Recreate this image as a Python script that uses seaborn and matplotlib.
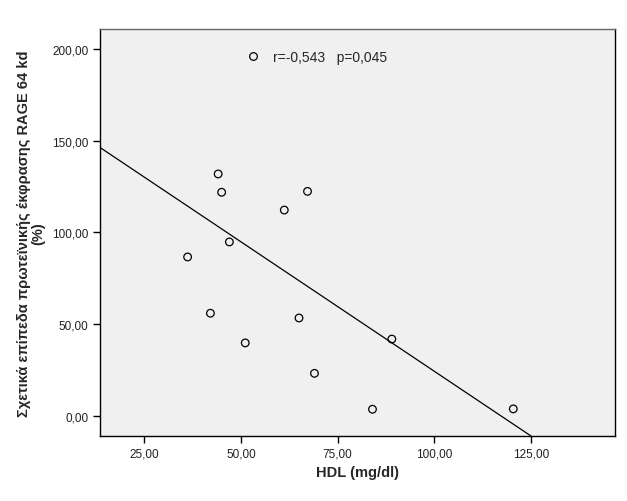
import matplotlib
matplotlib.use("Agg")
import matplotlib.pyplot as plt
import seaborn as sns
import pandas as pd
from matplotlib.ticker import FuncFormatter, FixedLocator
from matplotlib.lines import Line2D

# ---- data ----
hdl = [44.1, 45.0, 67.2, 61.2, 47.0, 36.2, 42.1, 65.0, 51.1, 69.0, 84.0, 89.0, 120.4]
rage = [131.9, 121.9, 122.4, 112.2, 94.8, 86.6, 55.9, 53.3, 39.7, 23.1, 3.5, 41.8, 3.7]
fit_intercept = 165.5
fit_slope = -1.413
x_ticks = [25, 50, 75, 100, 125]
y_ticks = [0, 50, 100, 150, 200]
legend_label = "r=-0,543   p=0,045"
x_label = "HDL (mg/dl)"
y_label = "Σχετικά επίπεδα πρωτεϊνικής έκφρασης RAGE 64 kd\n(%)"

df = pd.DataFrame({"HDL": hdl, "RAGE": rage})

sns.set_style("white")
plt.rcParams["font.family"] = ["Liberation Sans", "DejaVu Sans"]

fig = plt.figure(figsize=(6.27, 5.02), dpi=100)
ax = fig.add_axes([100 / 627, 1 - 437 / 502, 515 / 627, 407 / 502])
ax.set_facecolor("#f0f0f0")

sns.scatterplot(data=df, x="HDL", y="RAGE", ax=ax, marker="o", s=30,
                facecolors="none", edgecolor="black", linewidth=0.9, zorder=3)
ax.axline((0, fit_intercept), slope=fit_slope, color="black", lw=0.9, zorder=2)

ax.set_xlim(13.55, 146.7)
ax.set_ylim(-11.1, 211)

fmt = FuncFormatter(lambda v, p: f"{v:.2f}".replace(".", ","))
ax.xaxis.set_major_locator(FixedLocator(x_ticks))
ax.yaxis.set_major_locator(FixedLocator(y_ticks))
ax.xaxis.set_major_formatter(fmt)
ax.yaxis.set_major_formatter(fmt)
ax.tick_params(axis="both", direction="out", length=5, width=1, color="black",
               labelsize=8.5, labelcolor="#222222", bottom=True, left=True)

for s in ax.spines.values():
    s.set_color("black")
    s.set_linewidth(1.0)
ax.spines["top"].set_color("#666666")

ax.set_xlabel(x_label, fontsize=10.5, fontweight="bold", labelpad=4)
ax.set_ylabel(y_label, fontsize=10.5, fontweight="bold", labelpad=5, linespacing=1.0)

handle = Line2D([], [], marker="o", linestyle="none", markerfacecolor="none",
                markeredgecolor="black", markersize=5.5, markeredgewidth=0.9)
ax.legend([handle], [legend_label], loc="upper left", bbox_to_anchor=(0.246, 0.98),
          frameon=False, fontsize=10, handletextpad=0.4)

fig.savefig("out.png", dpi=100, facecolor="white")
